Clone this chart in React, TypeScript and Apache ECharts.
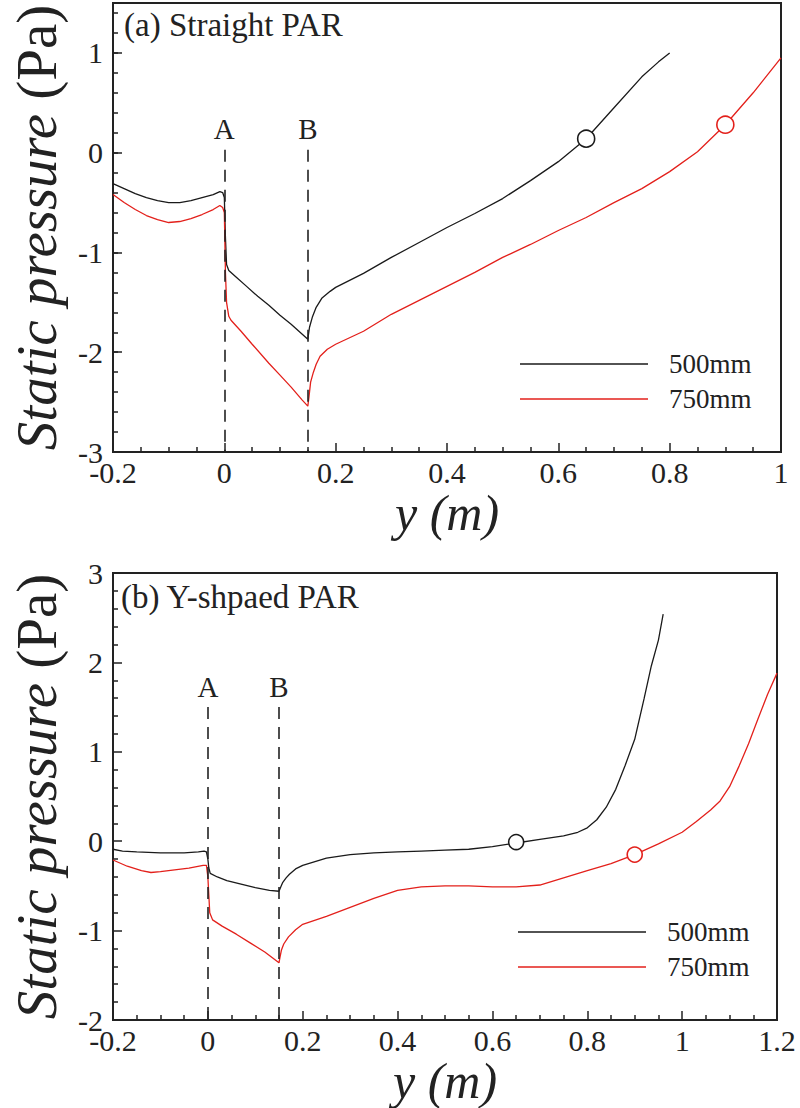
import React, { useEffect, useRef } from "react";
import * as echarts from "echarts";

const FONT = "'Liberation Serif', 'Times New Roman', Times, serif";
const BLACK = "#1a1a1a";
const RED = "#e3201b";

// ---------- Data ----------
const seriesNames = ["500mm", "750mm"];

// (a) Straight PAR
const topBlack: [number, number][] = [
  [-0.2, -0.31], [-0.18, -0.36], [-0.16, -0.41], [-0.14, -0.45], [-0.12, -0.48], [-0.1, -0.5],
  [-0.08, -0.5], [-0.06, -0.48], [-0.04, -0.45], [-0.02, -0.42], [-0.008, -0.39], [-0.003, -0.4],
  [0, -0.45], [0.002, -0.85], [0.004, -1.12], [0.008, -1.18], [0.02, -1.24], [0.04, -1.34],
  [0.06, -1.44], [0.08, -1.53], [0.1, -1.63], [0.12, -1.72], [0.14, -1.82], [0.15, -1.87],
  [0.153, -1.75], [0.158, -1.65], [0.165, -1.55], [0.175, -1.46], [0.19, -1.39], [0.2, -1.35],
  [0.25, -1.21], [0.3, -1.05], [0.35, -0.9], [0.4, -0.75], [0.45, -0.61], [0.5, -0.46],
  [0.55, -0.28], [0.6, -0.09], [0.65, 0.14], [0.7, 0.45], [0.75, 0.76], [0.78, 0.91], [0.8, 1.0],
];
const topRed: [number, number][] = [
  [-0.2, -0.42], [-0.18, -0.5], [-0.16, -0.57], [-0.14, -0.63], [-0.12, -0.67], [-0.1, -0.7],
  [-0.08, -0.69], [-0.06, -0.66], [-0.04, -0.62], [-0.02, -0.57], [-0.008, -0.53], [-0.003, -0.55],
  [0, -0.6], [0.002, -1.2], [0.004, -1.5], [0.008, -1.64], [0.012, -1.68], [0.03, -1.79],
  [0.05, -1.92], [0.08, -2.11], [0.1, -2.23], [0.12, -2.35], [0.14, -2.48], [0.15, -2.54],
  [0.152, -2.45], [0.155, -2.3], [0.16, -2.2], [0.165, -2.12], [0.172, -2.04], [0.185, -1.97],
  [0.2, -1.92], [0.25, -1.79], [0.3, -1.62], [0.35, -1.48], [0.4, -1.34], [0.45, -1.2],
  [0.5, -1.05], [0.55, -0.92], [0.6, -0.78], [0.65, -0.65], [0.7, -0.5], [0.75, -0.36],
  [0.8, -0.19], [0.85, 0.01], [0.9, 0.28], [0.95, 0.6], [1.0, 0.95],
];
const topMarkBlack: [number, number][] = [[0.65, 0.14]];
const topMarkRed: [number, number][] = [[0.9, 0.28]];

// (b) Y-shpaed PAR
const botBlack: [number, number][] = [
  [-0.2, -0.09], [-0.18, -0.11], [-0.15, -0.12], [-0.1, -0.13], [-0.05, -0.13], [-0.02, -0.12],
  [-0.008, -0.11], [-0.003, -0.12], [0, -0.2], [0.002, -0.3], [0.005, -0.36], [0.02, -0.4],
  [0.04, -0.44], [0.07, -0.48], [0.1, -0.52], [0.13, -0.55], [0.15, -0.56], [0.153, -0.52],
  [0.158, -0.46], [0.165, -0.41], [0.172, -0.37], [0.185, -0.31], [0.2, -0.27], [0.25, -0.19],
  [0.3, -0.15], [0.35, -0.13], [0.4, -0.12], [0.45, -0.11], [0.5, -0.1], [0.55, -0.09],
  [0.6, -0.06], [0.65, -0.02], [0.7, 0.02], [0.75, 0.06], [0.78, 0.1], [0.8, 0.15],
  [0.82, 0.24], [0.84, 0.38], [0.86, 0.58], [0.88, 0.85], [0.9, 1.14], [0.92, 1.6],
  [0.935, 1.96], [0.95, 2.25], [0.96, 2.54],
];
const botRed: [number, number][] = [
  [-0.2, -0.21], [-0.17, -0.28], [-0.14, -0.33], [-0.12, -0.35], [-0.1, -0.34], [-0.07, -0.32],
  [-0.04, -0.3], [-0.01, -0.27], [-0.003, -0.27], [0, -0.4], [0.002, -0.6], [0.004, -0.8],
  [0.01, -0.88], [0.03, -0.95], [0.06, -1.04], [0.09, -1.14], [0.12, -1.24], [0.15, -1.36],
  [0.152, -1.3], [0.155, -1.22], [0.16, -1.15], [0.17, -1.07], [0.185, -0.99], [0.2, -0.93],
  [0.25, -0.84], [0.3, -0.74], [0.35, -0.64], [0.4, -0.55], [0.45, -0.51], [0.5, -0.5],
  [0.55, -0.5], [0.6, -0.51], [0.65, -0.51], [0.7, -0.49], [0.75, -0.41], [0.8, -0.33],
  [0.85, -0.25], [0.9, -0.15], [0.95, -0.03], [1.0, 0.1], [1.03, 0.22], [1.06, 0.35],
  [1.08, 0.45], [1.1, 0.61], [1.12, 0.84], [1.14, 1.09], [1.16, 1.37], [1.18, 1.64], [1.2, 1.88],
];
const botMarkBlack: [number, number][] = [[0.65, -0.01]];
const botMarkRed: [number, number][] = [[0.9, -0.15]];

// guide lines A / B
const guideNames = ["A", "B"];
const guideX = [0, 0.15];
const topGuideRange = [0.03, -3];
const botGuideRange = [1.5, -2];

const titles = ["(a) Straight PAR", "(b) Y-shpaed PAR"];

// axis ranges
const topX = { min: -0.2, max: 1, interval: 0.2 };
const topY = { min: -3, max: 1.5 };
const botX = { min: -0.2, max: 1.2, interval: 0.2 };
const botY = { min: -2, max: 3, interval: 1 };

const labelStyle = { fontFamily: FONT, fontSize: 30, color: "#222" };
const axisLine = { show: true, onZero: false, lineStyle: { color: "#222", width: 2 } };
const tickLine = { color: "#222", width: 1.5 };

const yName = "{i|Static pressure }{n|(Pa)}";
const yNameStyle = {
  rich: {
    i: { fontFamily: FONT, fontSize: 57, fontStyle: "italic", color: "#222" },
    n: { fontFamily: FONT, fontSize: 57, color: "#222" },
  },
};
const xNameStyle = { fontFamily: FONT, fontSize: 50, fontStyle: "italic", color: "#222", lineHeight: 50 };
const titleStyle = { fontFamily: FONT, fontSize: 33, fontWeight: "normal", color: "#222" };

function fmtNum(v: number) {
  const r = Math.round(v * 100) / 100;
  return String(r);
}

function guideMarkLine(range: number[]) {
  return {
    silent: true,
    symbol: ["none", "none"],
    lineStyle: { type: [12, 8], color: "#222", width: 1.6 },
    label: {
      show: true,
      position: "start",
      formatter: "{b}",
      distance: 6,
      fontFamily: FONT,
      fontSize: 29,
      color: "#222",
    },
    data: guideX.map((gx, i) => [
      { coord: [gx, range[0]], name: guideNames[i] },
      { coord: [gx, range[1]] },
    ]),
  };
}

function lineSeries(name: string, data: [number, number][], color: string, xi: number, yi: number, extra: any = {}) {
  return {
    type: "line",
    name,
    data,
    xAxisIndex: xi,
    yAxisIndex: yi,
    symbol: "none",
    showSymbol: false,
    smooth: false,
    lineStyle: { color, width: 1.3 },
    itemStyle: { color },
    z: 3,
    ...extra,
  };
}

function markSeries(data: [number, number][], color: string, xi: number, yi: number, size: number) {
  return {
    type: "scatter",
    name: "marker",
    data,
    xAxisIndex: xi,
    yAxisIndex: yi,
    symbol: "circle",
    symbolSize: size,
    itemStyle: { color: "#fff", borderColor: color, borderWidth: 1.6, opacity: 1 },
    z: 5,
  };
}

function legendAt(left: number, top: number) {
  return {
    data: seriesNames,
    orient: "vertical",
    left,
    top,
    icon: "rect",
    itemWidth: 128,
    itemHeight: 1.6,
    itemGap: 5,
    textStyle: { fontFamily: FONT, fontSize: 27, color: "#222", lineHeight: 30, padding: [0, 0, 0, 16] },
  };
}

export default function App() {
  const ref = useRef<HTMLDivElement>(null);
  useEffect(() => {
    if (!ref.current) return;
    const chart = echarts.init(ref.current, null, { renderer: "svg" });
    const option: any = {
      animation: false,
      backgroundColor: "#fff",
      title: [
        { text: titles[0], left: 124, top: 8, padding: 0, textStyle: titleStyle },
        { text: titles[1], left: 121, top: 580, padding: 0, textStyle: titleStyle },
      ],
      legend: [legendAt(515, 344), legendAt(513, 912)],
      grid: [
        { left: 110, top: 3, width: 671, height: 449, show: true, borderColor: "#222", borderWidth: 2, backgroundColor: "transparent" },
        { left: 105, top: 573, width: 672, height: 447, show: true, borderColor: "#222", borderWidth: 2, backgroundColor: "transparent" },
      ],
      xAxis: [
        {
          gridIndex: 0,
          type: "value",
          min: topX.min,
          max: topX.max,
          interval: topX.interval,
          axisLine,
          axisTick: { inside: true, length: 9, lineStyle: tickLine },
          minorTick: { show: true, splitNumber: 4, length: 5, lineStyle: tickLine },
          axisLabel: { ...labelStyle, margin: 5, formatter: fmtNum },
          splitLine: { show: false },
          minorSplitLine: { show: false },
          name: "y (m)",
          nameLocation: "middle",
          nameGap: 36,
          nameTextStyle: xNameStyle,
        },
        {
          gridIndex: 1,
          type: "value",
          min: botX.min,
          max: botX.max,
          interval: botX.interval,
          axisLine,
          axisTick: { inside: true, length: 9, lineStyle: tickLine },
          minorTick: { show: true, splitNumber: 4, length: 5, lineStyle: tickLine },
          axisLabel: { ...labelStyle, margin: 5, formatter: fmtNum },
          splitLine: { show: false },
          minorSplitLine: { show: false },
          name: "y (m)",
          nameLocation: "middle",
          nameGap: 34,
          nameTextStyle: xNameStyle,
        },
      ],
      yAxis: [
        {
          gridIndex: 0,
          type: "value",
          position: "left",
          min: topY.min,
          max: topY.max,
          interval: 0.2,
          axisLine,
          axisTick: { inside: true, length: 5, lineStyle: tickLine },
          axisLabel: {
            ...labelStyle,
            margin: 10,
            formatter: (v: number) => (Math.abs(v - Math.round(v)) < 1e-6 && v < topY.max ? String(Math.round(v)) : ""),
          },
          splitLine: { show: false },
          name: yName,
          nameLocation: "middle",
          nameRotate: 90,
          nameGap: 48,
          nameTextStyle: yNameStyle,
        },
        {
          gridIndex: 0,
          type: "value",
          position: "left",
          min: topY.min,
          max: topY.max,
          interval: 1,
          axisLine: { show: false, onZero: false },
          axisTick: { inside: true, length: 9, lineStyle: tickLine },
          axisLabel: { show: false },
          splitLine: { show: false },
        },
        {
          gridIndex: 1,
          type: "value",
          position: "left",
          min: botY.min,
          max: botY.max,
          interval: botY.interval,
          axisLine,
          axisTick: { inside: true, length: 9, lineStyle: tickLine },
          minorTick: { show: true, splitNumber: 5, length: 5, lineStyle: tickLine },
          axisLabel: { ...labelStyle, margin: 10, formatter: fmtNum },
          splitLine: { show: false },
          minorSplitLine: { show: false },
          name: yName,
          nameLocation: "middle",
          nameRotate: 90,
          nameGap: 48,
          nameTextStyle: yNameStyle,
        },
      ],
      series: [
        lineSeries(seriesNames[0], topBlack, BLACK, 0, 0, { markLine: guideMarkLine(topGuideRange) }),
        lineSeries(seriesNames[1], topRed, RED, 0, 0),
        markSeries(topMarkBlack, BLACK, 0, 0, 17),
        markSeries(topMarkRed, RED, 0, 0, 17),
        lineSeries(seriesNames[0], botBlack, BLACK, 1, 2, { markLine: guideMarkLine(botGuideRange) }),
        lineSeries(seriesNames[1], botRed, RED, 1, 2),
        markSeries(botMarkBlack, BLACK, 1, 2, 15),
        markSeries(botMarkRed, RED, 1, 2, 15),
      ],
    };
    chart.setOption(option);
    return () => chart.dispose();
  }, []);
  return (
    <div
      ref={ref}
      style={{ position: "fixed", left: 0, top: 0, width: 800, height: 1108, background: "#fff" }}
    />
  );
}
